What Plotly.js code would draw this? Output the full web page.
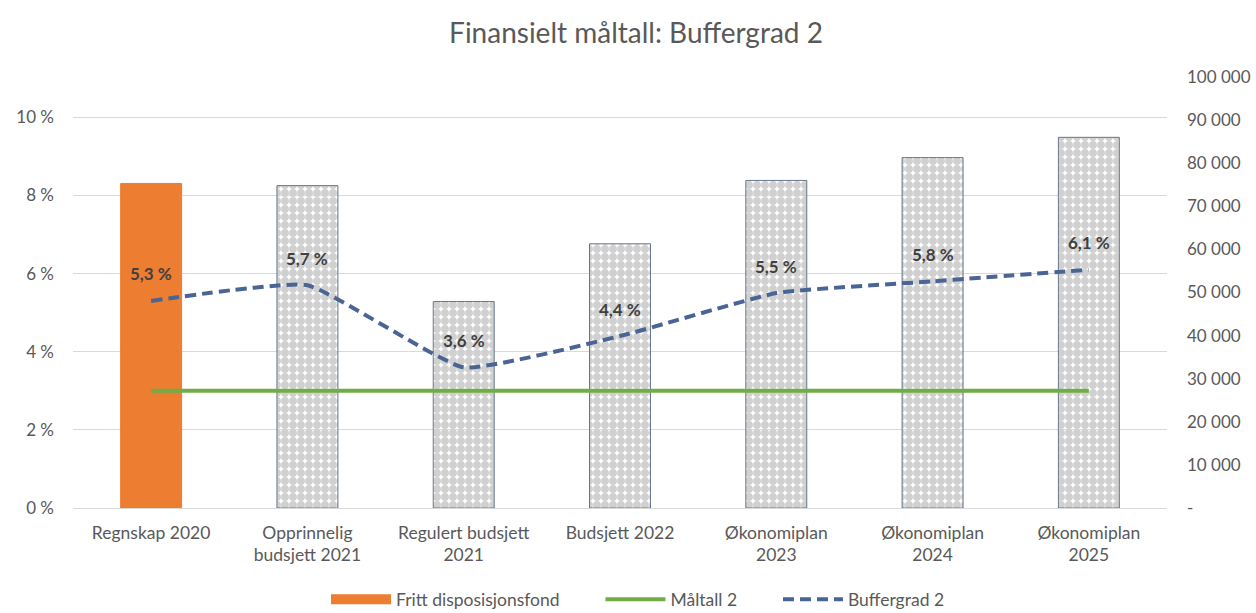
<!DOCTYPE html>
<html>
<head>
<meta charset="utf-8">
<script src="https://cdn.plot.ly/plotly-3.0.1.min.js"></script>
<style>html,body{margin:0;padding:0;background:#fff;}#chart{width:1256px;height:613px;}</style>
</head>
<body>
<div id="chart"></div>
<script>
const categories = ['Regnskap 2020', 'Opprinnelig<br>budsjett 2021', 'Regulert budsjett<br>2021', 'Budsjett 2022', 'Økonomiplan<br>2023', 'Økonomiplan<br>2024', 'Økonomiplan<br>2025'];
const frittDisposisjonsfond = [75300, 74800, 47900, 61300, 76000, 81300, 86000];
const maltall2 = [3, 3, 3, 3, 3, 3, 3];
const buffergrad2 = [5.3, 5.7, 3.6, 4.4, 5.5, 5.8, 6.1];
const leftTickVals = [0, 2, 4, 6, 8, 10];
const leftTickText = ['0 %', '2 %', '4 %', '6 %', '8 %', '10 %'];
const rightTickVals = [0, 10000, 20000, 30000, 40000, 50000, 60000, 70000, 80000, 90000, 100000];
const rightTickText = ['-', '10 000', '20 000', '30 000', '40 000', '50 000', '60 000', '70 000', '80 000', '90 000', '100 000'];

const FONT = 'Lato, "Open Sans", sans-serif';
const GREY = '#595959';
const FS = 17;
const PAD = '\u00a0'.repeat(8);

const barColors = frittDisposisjonsfond.map((v, i) => i === 0 ? '#ED7D31' : '#d0d0d0');
const barShapes = frittDisposisjonsfond.map((v, i) => i === 0 ? '' : '.');
const barLineColors = frittDisposisjonsfond.map((v, i) => i === 0 ? '#ED7D31' : '#66768a');

const traces = [
  {
    type: 'bar', name: 'Fritt disposisjonsfond', x: categories, y: frittDisposisjonsfond,
    xaxis: 'x', yaxis: 'y', showlegend: false, legendgroup: 'fond',
    marker: {
      color: barColors,
      line: {color: barLineColors, width: 1},
      pattern: {shape: barShapes, fgcolor: '#d3d3d3', bgcolor: '#ffffff', size: 8, solidity: 0.75, fillmode: 'replace'}
    },
    hoverinfo: 'skip'
  },
  {
    // legend swatch for the bar series (wide orange block like the original)
    type: 'scatter', mode: 'lines', name: 'Fritt disposisjonsfond' + PAD, x: [null], y: [null],
    xaxis: 'x', yaxis: 'y', legendgroup: 'fond',
    line: {color: '#ED7D31', width: 12}, hoverinfo: 'skip'
  },
  {
    type: 'scatter', mode: 'lines', name: 'Måltall 2' + PAD, x: categories, y: maltall2,
    xaxis: 'x', yaxis: 'y2',
    line: {color: '#70AD47', width: 4}, hoverinfo: 'skip'
  },
  {
    type: 'scatter', mode: 'lines', name: 'Buffergrad 2', x: categories, y: buffergrad2,
    xaxis: 'x', yaxis: 'y2',
    line: {color: '#4a6494', width: 4, dash: '11px,6px', shape: 'spline', smoothing: 0.4}, hoverinfo: 'skip'
  }
];

const annotations = buffergrad2.map((v, i) => ({
  x: categories[i], y: v, xref: 'x', yref: 'y2', yshift: 27,
  text: '<b>' + v.toFixed(1).replace('.', ',') + ' %</b>',
  showarrow: false, font: {family: FONT, size: FS, color: '#404040'}
}));

const layout = {
  width: 1256, height: 613,
  paper_bgcolor: '#ffffff', plot_bgcolor: 'rgba(0,0,0,0)',
  margin: {l: 73, r: 89, t: 77, b: 105, autoexpand: false},
  font: {family: FONT, color: GREY, size: FS},
  title: {text: 'Finansielt måltall: Buffergrad 2', x: 636 / 1256, xanchor: 'center', y: 1 - 33 / 613, yanchor: 'middle', yref: 'container',
    font: {family: FONT, size: 28, color: GREY}},
  showlegend: true,
  legend: {orientation: 'h', x: (638 - 73) / 1094, xanchor: 'center', y: -0.212, yanchor: 'middle', yref: 'paper',
    font: {family: FONT, size: 17.5, color: GREY}, itemwidth: 60, traceorder: 'normal'},
  bargap: 0.61,
  xaxis: {type: 'category', showgrid: false, showline: false, zeroline: false, ticks: '', tickangle: 0,
    tickfont: {family: FONT, size: 17.5, color: GREY}, ticklabelstandoff: 12},
  yaxis: {side: 'right', range: [0, 100000], tickvals: rightTickVals, ticktext: rightTickText,
    showgrid: false, zeroline: false, showline: false, ticks: '', ticklabelstandoff: 19,
    tickfont: {family: FONT, size: FS, color: GREY}},
  yaxis2: {overlaying: 'y', side: 'left', range: [0, 11.03], tickvals: leftTickVals, ticktext: leftTickText,
    showgrid: true, gridcolor: '#d9d9d9', gridwidth: 1, zeroline: true, zerolinecolor: '#d9d9d9', zerolinewidth: 1,
    showline: false, ticks: '', ticklabelstandoff: 18,
    tickfont: {family: FONT, size: FS, color: GREY}},
  annotations: annotations
};

Plotly.newPlot('chart', traces, layout, {displayModeBar: false, staticPlot: true});
</script>
</body>
</html>
